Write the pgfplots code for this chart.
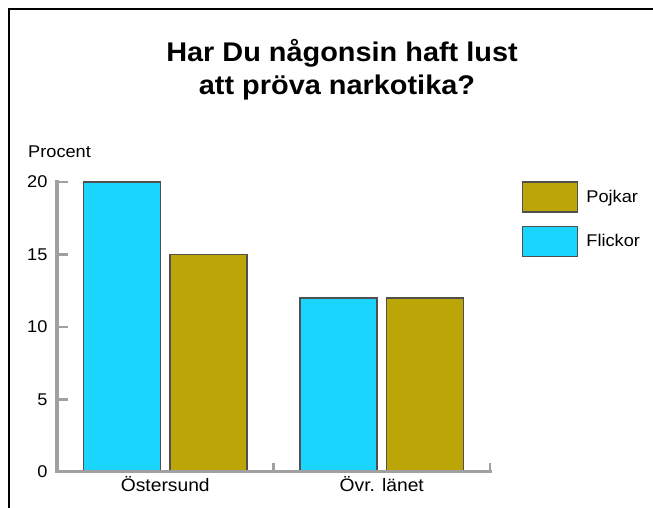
\documentclass[border=0pt]{standalone}
\usepackage{pgfplots}
\pgfplotsset{compat=1.18}
\usepackage{fontspec}
\setmainfont{Liberation Sans}[FakeStretch=1.07]

\definecolor{cyanbar}{RGB}{26,214,255}
\definecolor{olivebar}{RGB}{188,165,6}
\definecolor{axgray}{RGB}{160,160,160}
\definecolor{edgegray}{RGB}{80,80,80}

\pgfplotsset{
  mylegend/.style={legend image code/.code={\draw[##1] (0pt,-15pt) rectangle (55pt,15pt);}},
}

\begin{document}
\begin{tikzpicture}
\useasboundingbox (0pt,0pt) rectangle (653pt,508pt);
\draw[line width=1.6pt] (9pt,0pt) -- (9pt,499pt) -- (653pt,499pt);
\node[anchor=base, inner sep=0pt, font=\bfseries\fontsize{27}{32}\selectfont] at (342pt,446pt) {Har Du någonsin haft lust};
\node[anchor=base, inner sep=0pt, font=\bfseries\fontsize{27}{32}\selectfont] at (337pt,413pt) {att pröva narkotika?};
\node[anchor=base west, inner sep=0pt, font=\fontsize{17}{20}\selectfont] at (28pt,350pt) {Procent};
\begin{axis}[
  at={(57pt,36pt)}, anchor=south west,
  width=433pt, height=290pt, scale only axis,
  xmin=0.5, xmax=2.5, ymin=0, ymax=20,
  enlargelimits=false,
  axis line style={draw=none},
  tick pos=left,
  major tick length=0pt,
  ytick={0,5,10,15,20},
  xtick={1,2},
  xticklabels={Östersund,Övr. länet},
  /pgf/number format/assume math mode=true,
  ticklabel style={font=\fontsize{17}{20}\selectfont, text=black},
  yticklabel style={xshift=-6pt},
  xticklabel style={font=\fontsize{18}{20}\selectfont, anchor=base, yshift=-20pt},
  ybar,
  bar width=0.356,
  legend cell align=left,
  legend style={at={(1.074,1.003)}, anchor=north west, draw=none, fill=none,
    inner sep=0pt, font=\fontsize{17}{20}\selectfont, row sep=13pt,
    nodes={inner sep=0pt},
    /tikz/every odd column/.append style={column sep=8pt}},
  after end axis/.code={
    \draw[axgray, line width=3pt, line cap=rect] (rel axis cs:0,1) -- (rel axis cs:0,0) -- (rel axis cs:1,0);
    \foreach \v in {5,10,15,20} {\draw[axgray, line width=2.2pt] (axis cs:0.5,\v) -- ++(11pt,0pt);}
    \foreach \u in {1.5,2.5} {\draw[axgray, line width=2.2pt] (axis cs:\u,0) -- ++(0pt,9pt);}
  },
]
\addplot[ybar, mylegend, bar shift=0.2, fill=olivebar, draw=edgegray, line width=1.2pt] coordinates {(1,15) (2,12)};
\addlegendentry{Pojkar}
\addplot[ybar, mylegend, bar shift=-0.2, fill=cyanbar, draw=edgegray, line width=1.2pt] coordinates {(1,20) (2,12)};
\addlegendentry{Flickor}
\end{axis}
\end{tikzpicture}
\end{document}
